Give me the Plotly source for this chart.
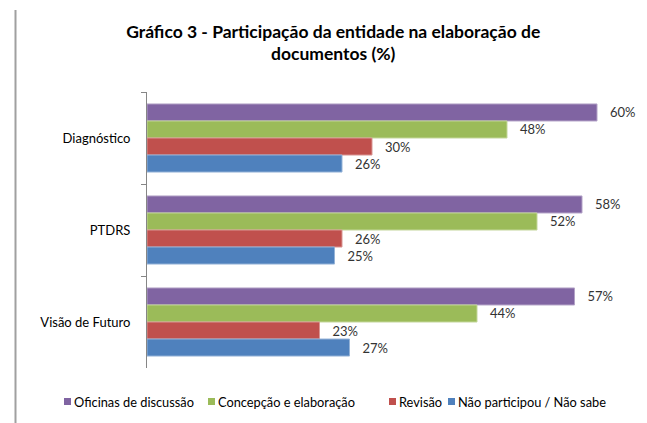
import plotly.graph_objects as go

categories = ["Diagnóstico", "PTDRS", "Visão de Futuro"]
series_names = ["Oficinas de discussão", "Concepção e elaboração", "Revisão", "Não participou / Não sabe"]
oficinas = [60, 58, 57]
concepcao = [48, 52, 44]
revisao = [30, 26, 23]
nao_participou = [26, 25, 27]
values = [oficinas, concepcao, revisao, nao_participou]

colors = ["#8064A2", "#9BBB59", "#C0504D", "#4F81BD"]
line_colors = ["#B3A2C7", "#C3D69B", "#D99694", "#95B3D7"]

FONT = "Lato, Open Sans, sans-serif"

fig = go.Figure()
for name, vals, c, lc in zip(series_names, values, colors, line_colors):
    fig.add_trace(go.Bar(
        y=categories, x=vals, name=name, orientation="h",
        marker=dict(color=c, line=dict(color=lc, width=1)),
        text=vals, texttemplate="   %{x}%", textposition="outside",
        cliponaxis=False,
        textfont=dict(family=FONT, size=13, color="#333333"),
    ))

L, T, R, B = 147, 92, 5, 55
W, H = 647, 423
pw = W - L - R
ph = H - T - B

def px_x(v):
    return (v - L) / pw

def px_y(v):
    return (ph - (v - T)) / ph

# manual legend (compact, like the original)
legend_x = [64, 208, 389, 448]
shapes = []
annotations = []
for name, c, lx in zip(series_names, colors, legend_x):
    shapes.append(dict(type="rect", xref="paper", yref="paper",
                       x0=px_x(lx), x1=px_x(lx + 7), y0=px_y(405), y1=px_y(398),
                       fillcolor=c, line=dict(width=0)))
    annotations.append(dict(text=name, xref="paper", yref="paper",
                            x=px_x(lx + 8), y=px_y(402), xanchor="left", yanchor="middle",
                            showarrow=False,
                            font=dict(family=FONT, size=12.8, color="#000000")))

shapes.append(dict(
    type="line", xref="paper", yref="paper",
    x0=px_x(15.5), x1=px_x(15.5), y0=px_y(H), y1=px_y(10),
    line=dict(color="#A0A0A0", width=2),
))

fig.update_layout(
    width=W, height=H,
    margin=dict(l=L, r=R, t=T, b=B, autoexpand=False),
    paper_bgcolor="white", plot_bgcolor="white",
    barmode="group", bargap=0.26, bargroupgap=0,
    showlegend=False,
    title=dict(
        text="Gráfico 3 - Participação da entidade na elaboração de<br>documentos (%)",
        x=0.515, xref="container", xanchor="center",
        y=1 - 37.5 / H, yref="container", yanchor="middle",
        font=dict(family=FONT, size=17.5, color="#000000", weight="bold"),
    ),
    xaxis=dict(range=[0, 66], visible=False, showgrid=False, zeroline=False),
    yaxis=dict(
        autorange="reversed", showline=True, linecolor="#868686", linewidth=1,
        ticks="outside", tickson="boundaries", ticklen=5, tickcolor="#868686",
        tickfont=dict(family=FONT, size=13, color="#000000"),
        showgrid=False, zeroline=False, ticklabelstandoff=13, automargin=False,
    ),
    shapes=shapes,
    annotations=annotations,
)

fig.write_html("out.html", config={"displayModeBar": False},
               post_script="document.body.style.margin='0';")
